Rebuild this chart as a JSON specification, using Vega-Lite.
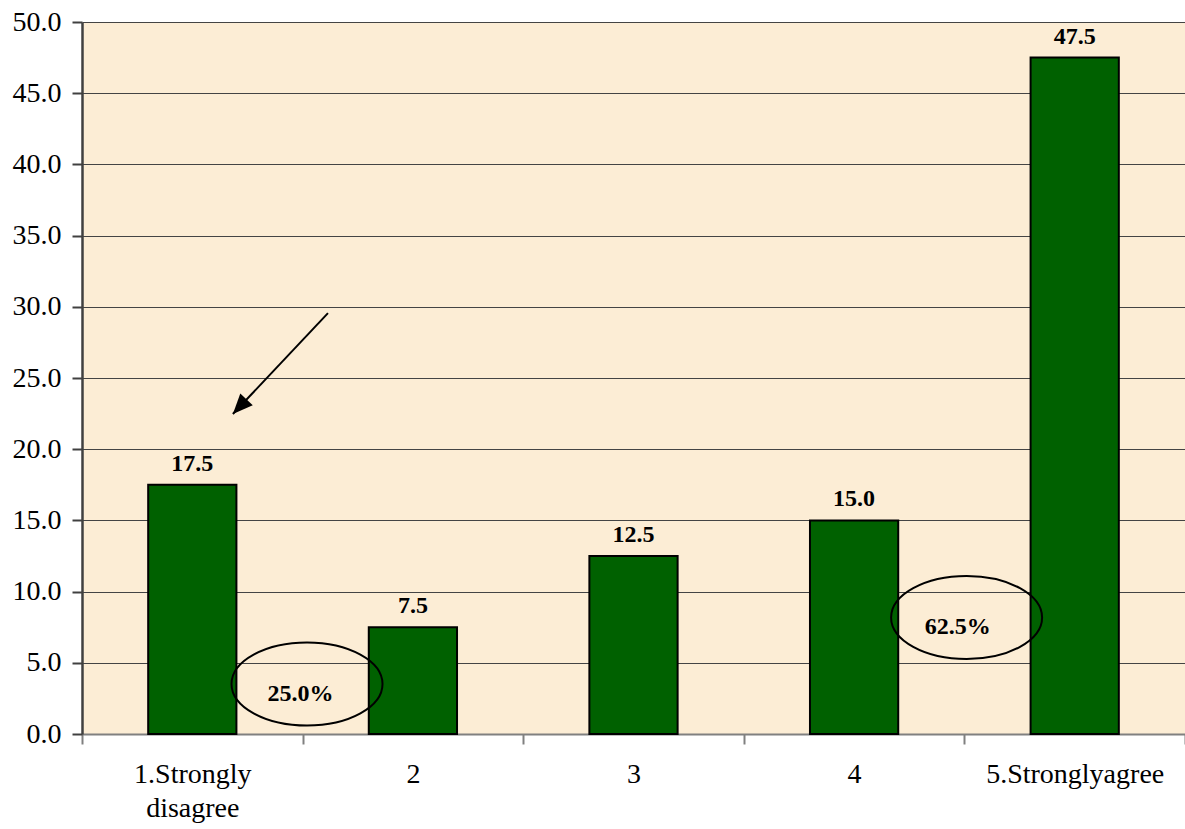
{
  "$schema": "https://vega.github.io/schema/vega-lite/v6.json",
  "width": 1103,
  "height": 712,
  "autosize": {"type": "none"},
  "padding": {"left": 82, "top": 22, "right": 0, "bottom": 95},
  "background": "white",
  "config": {
    "font": "Liberation Serif",
    "view": {"stroke": null, "fill": "#FCEDD5"}
  },
  "datasets": {
    "bars": [
      {"category": "1.Strongly disagree", "value": 17.5},
      {"category": "2", "value": 7.5},
      {"category": "3", "value": 12.5},
      {"category": "4", "value": 15.0},
      {"category": "5.Stronglyagree", "value": 47.5}
    ],
    "ellipses": [
      {"x": 1.02, "y": 3.51},
      {"x": 4.01, "y": 8.18}
    ],
    "notes": [
      {"x": 0.99, "y": 2.81, "label": "25.0%"},
      {"x": 3.97, "y": 7.51, "label": "62.5%"}
    ],
    "arrow": [
      {"x": 1.115, "y": 29.56, "end": false},
      {"x": 0.684, "y": 22.47, "end": true}
    ]
  },
  "layer": [
    {
      "layer": [
        {
          "data": {"name": "bars"},
          "mark": {"type": "bar", "fill": "#006100", "stroke": "#000000", "strokeWidth": 2, "width": {"band": 0.4}},
          "encoding": {
            "x": {
              "field": "category",
              "type": "nominal",
              "sort": null,
              "scale": {"paddingInner": 0, "paddingOuter": 0},
              "axis": {
                "title": null,
                "labelAngle": 0,
                "labelFontSize": 28,
                "labelColor": "#000000",
                "labelLimit": 400,
                "labelOverlap": false,
                "labelExpr": "datum.value == '1.Strongly disagree' ? ['1.Strongly', 'disagree'] : datum.value",
                "labelLineHeight": 34,
                "labelBaseline": "top",
                "labelPadding": 16,
                "tickBand": "extent",
                "tickSize": 10,
                "tickColor": "#808080",
                "tickWidth": 2,
                "domainColor": "#808080",
                "domainWidth": 2
              }
            },
            "y": {
              "field": "value",
              "type": "quantitative",
              "scale": {"domain": [0, 50], "nice": false},
              "axis": {
                "title": null,
                "values": [0, 5, 10, 15, 20, 25, 30, 35, 40, 45, 50],
                "format": ".1f",
                "labelFontSize": 28,
                "labelColor": "#000000",
                "labelPadding": 11,
                "grid": true,
                "gridColor": "#444444",
                "gridWidth": 1.2,
                "tickSize": 10,
                "tickColor": "#404040",
                "tickWidth": 2,
                "domainColor": "#404040",
                "domainWidth": 2.5
              }
            }
          }
        },
        {
          "data": {"name": "bars"},
          "mark": {"type": "text", "fontWeight": "bold", "fontSize": 24, "baseline": "alphabetic", "dy": -14, "color": "#000000"},
          "encoding": {
            "x": {"field": "category", "type": "nominal", "sort": null},
            "y": {"field": "value", "type": "quantitative"},
            "text": {"field": "value", "type": "quantitative", "format": ".1f"}
          }
        }
      ]
    },
    {
      "layer": [
        {
          "data": {"name": "ellipses"},
          "mark": {
            "type": "point",
            "shape": "M -1 0 C -1 -0.304 -0.5523 -0.55 0 -0.55 C 0.5523 -0.55 1 -0.304 1 0 C 1 0.304 0.5523 0.55 0 0.55 C -0.5523 0.55 -1 0.304 -1 0 Z",
            "size": 22801,
            "filled": false,
            "stroke": "#000000",
            "strokeWidth": 2,
            "opacity": 1
          },
          "encoding": {
            "x": {"field": "x", "type": "quantitative", "scale": {"domain": [0, 5], "nice": false, "zero": false}, "axis": null},
            "y": {"field": "y", "type": "quantitative"}
          }
        },
        {
          "data": {"name": "notes"},
          "mark": {"type": "text", "fontWeight": "bold", "fontSize": 24, "baseline": "middle", "align": "center", "color": "#000000"},
          "encoding": {
            "x": {"field": "x", "type": "quantitative", "axis": null},
            "y": {"field": "y", "type": "quantitative"},
            "text": {"field": "label", "type": "nominal"}
          }
        },
        {
          "data": {"name": "arrow"},
          "mark": {"type": "line", "color": "#000000", "strokeWidth": 2},
          "encoding": {
            "x": {"field": "x", "type": "quantitative", "axis": null},
            "y": {"field": "y", "type": "quantitative"}
          }
        },
        {
          "data": {"name": "arrow"},
          "transform": [{"filter": "datum.end"}],
          "mark": {
            "type": "point",
            "shape": "M 0 0 L 0.85 2 L -0.85 2 Z",
            "size": 400,
            "filled": true,
            "fill": "#000000",
            "stroke": null,
            "opacity": 1,
            "angle": 223
          },
          "encoding": {
            "x": {"field": "x", "type": "quantitative", "axis": null},
            "y": {"field": "y", "type": "quantitative"}
          }
        }
      ]
    },
    {
      "mark": {"type": "rule", "stroke": "#808080", "strokeWidth": 2},
      "encoding": {"y": {"datum": 50}}
    }
  ],
  "resolve": {"scale": {"x": "independent"}}
}
